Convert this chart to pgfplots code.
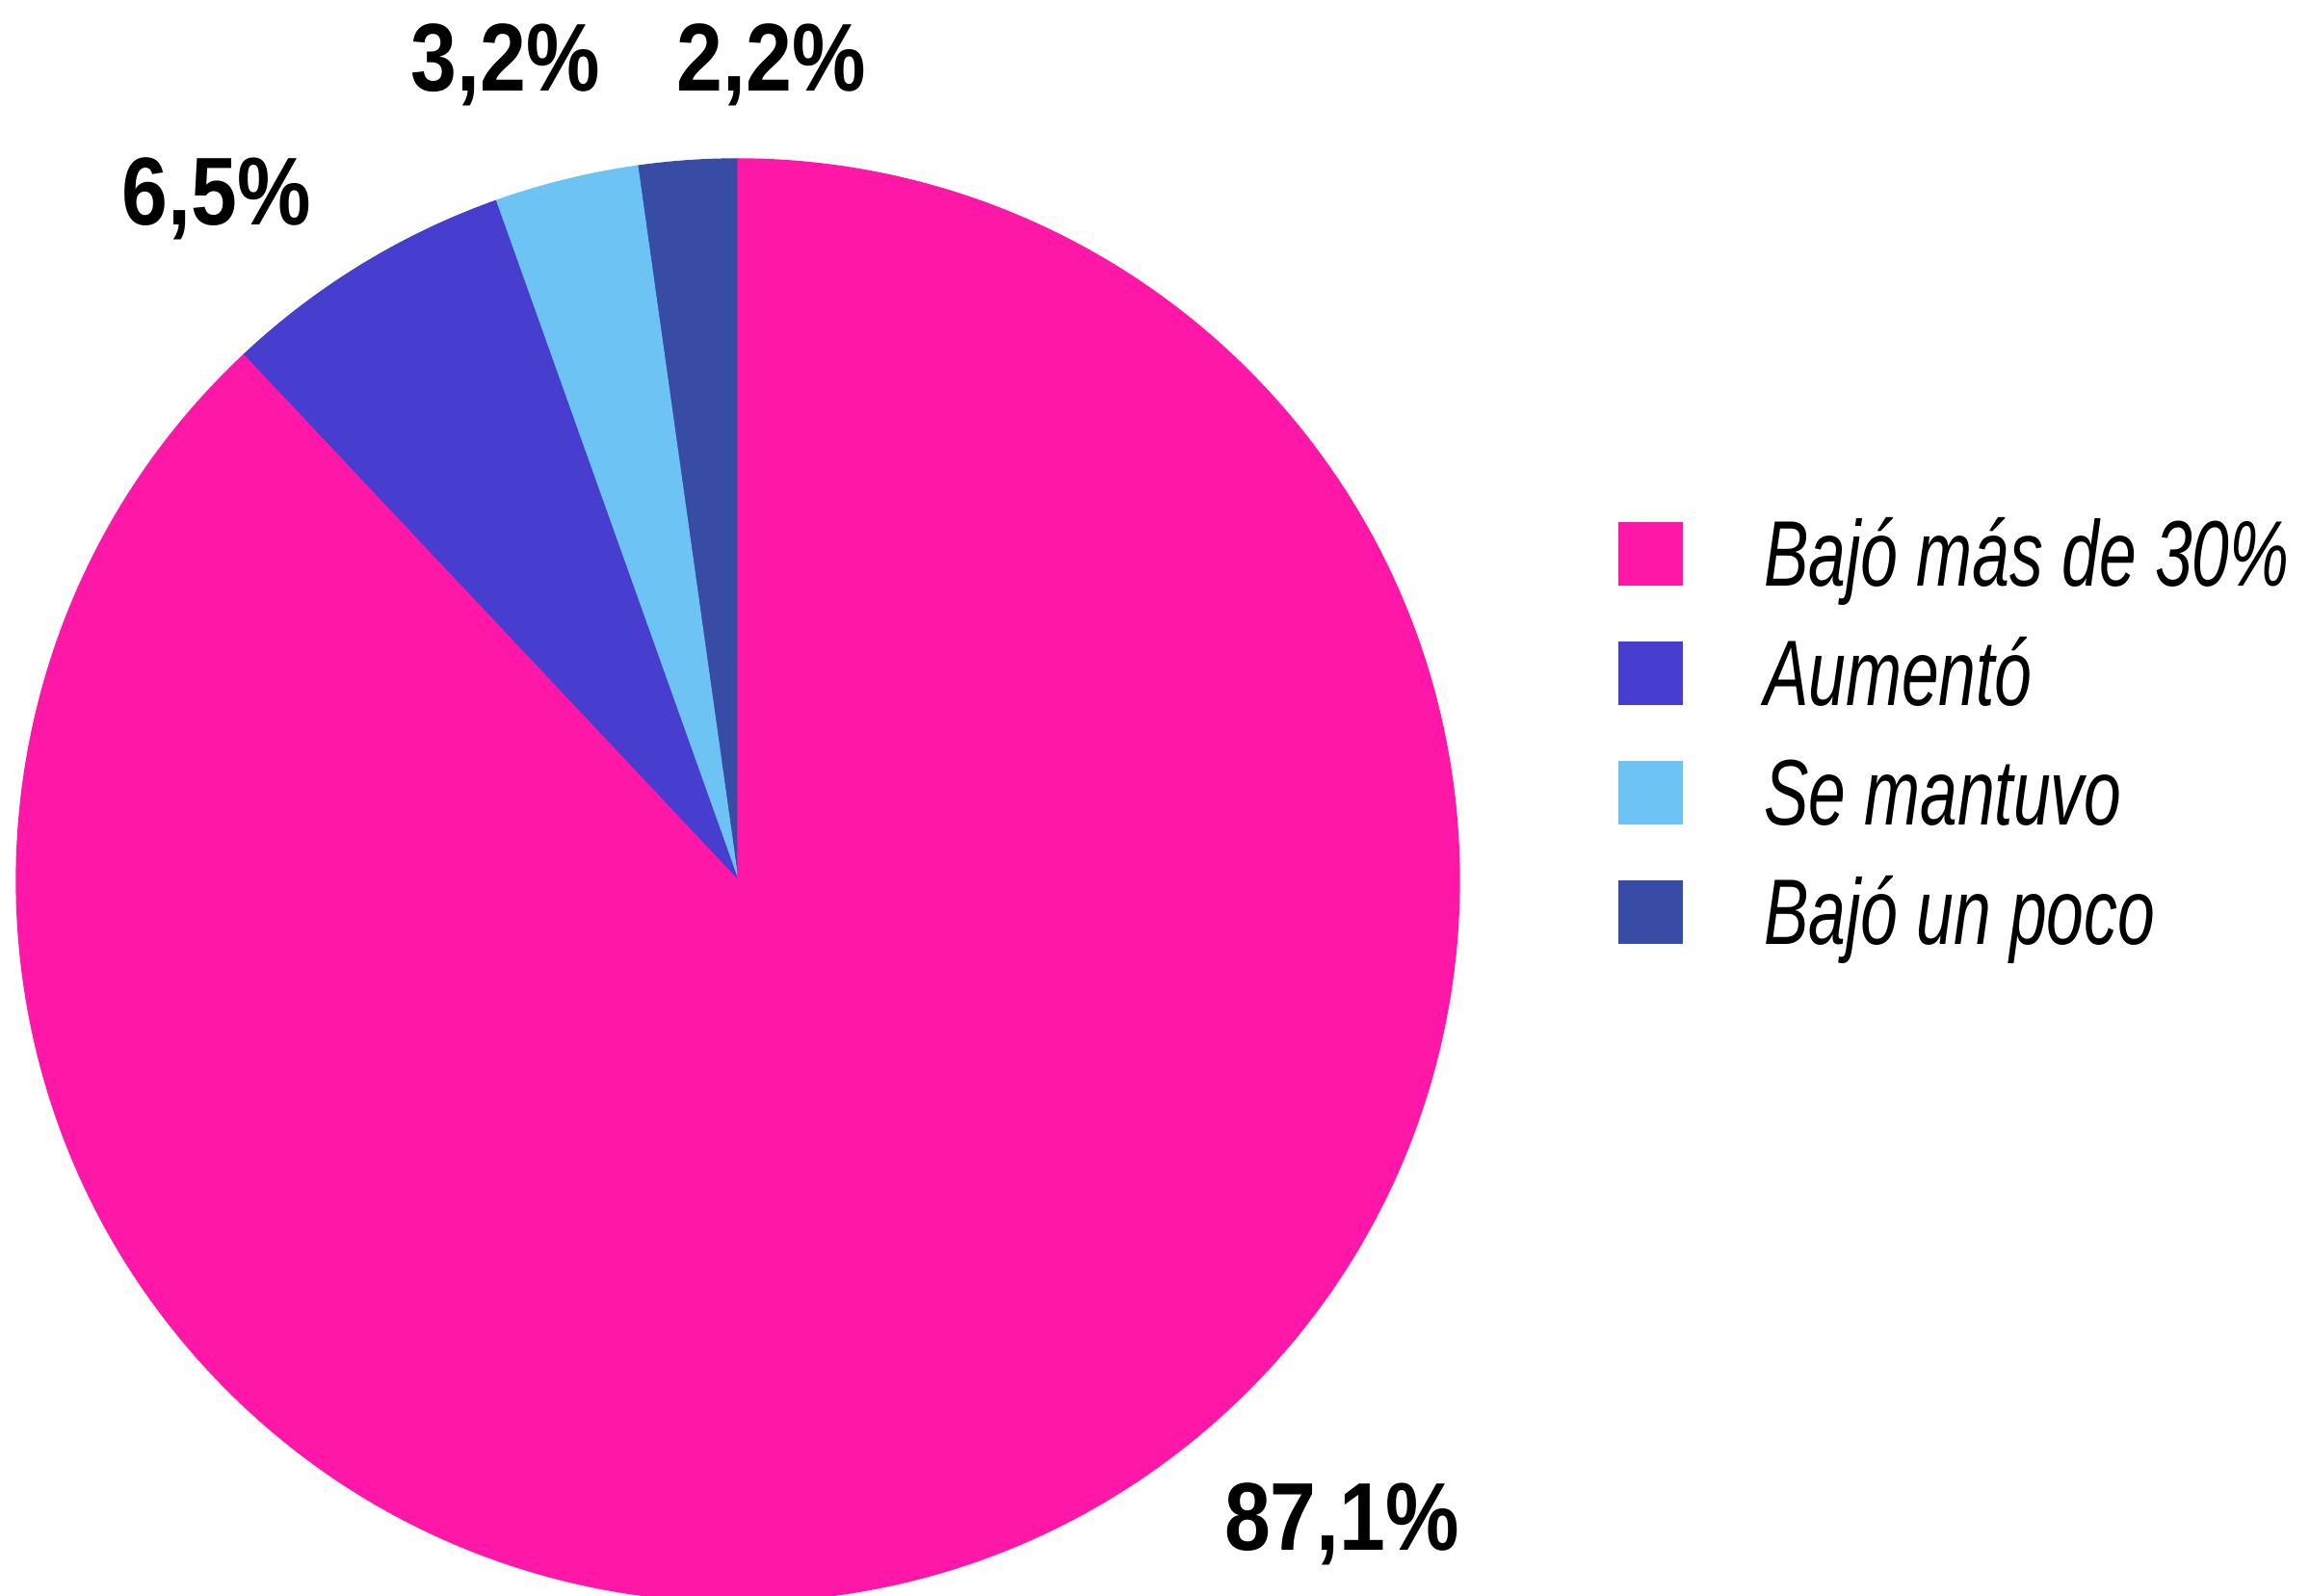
\documentclass[border=0pt]{standalone}
\usepackage{pgfplots}
\pgfplotsset{compat=1.18}
\usepackage{fontspec}
\setmainfont{Liberation Sans}
\newfontfamily\legfont{Liberation Sans}[FakeStretch=0.72]
\newfontfamily\labfont{Liberation Sans}[FakeStretch=0.86]

\definecolor{cPink}{HTML}{FF18A8}
\definecolor{cPurple}{HTML}{473DCF}
\definecolor{cLight}{HTML}{6EC3F5}
\definecolor{cDark}{HTML}{384CA6}

\begin{document}
\begin{tikzpicture}
\begin{axis}[
  x=0.15pt, y=0.15pt,
  xmin=0, xmax=2398, ymin=0, ymax=1657,
  hide axis, clip=true,
  legend cell align=left,
  legend image code/.code={\fill[#1, draw=none] (0pt,0pt) rectangle (10pt,10pt);},
  legend style={at={(axis cs:1679,1120)}, anchor=north west,
    draw=none, fill=none, inner sep=0pt, row sep=5.1pt,
    font=\legfont\itshape\fontsize{14.5}{17}\selectfont,
    nodes={inner sep=0pt, text height=10.5pt, text depth=3pt, anchor=base west},
    /tikz/every odd column/.append style={column sep=12.6pt}},
]
% invisible frame so the page keeps the reference size
\addplot[draw=none, forget plot] coordinates {(0,0) (2398,1657)};

% pie slices, counter-clockwise from 12 o'clock (shares in %)
\pgfplotsextra{%
  \xdef\curang{90}%
  \foreach \val/\col in {2.2/cDark, 3.2/cLight, 6.5/cPurple, 87.1/cPink}{%
    \pgfmathsetmacro\endang{\curang+\val/99.0*360}%
    \fill[\col, draw=\col, line width=0.2pt] (axis cs:766,743) -- ++(\curang:112.35pt)
      arc[start angle=\curang, end angle=\endang, radius=112.35pt] -- cycle;
    \xdef\curang{\endang}%
  }%
}

\addlegendimage{fill=cPink}
\addlegendentry{Bajó más de 30\%}
\addlegendimage{fill=cPurple}
\addlegendentry{Aumentó}
\addlegendimage{fill=cLight}
\addlegendentry{Se mantuvo}
\addlegendimage{fill=cDark}
\addlegendentry{Bajó un poco}

\tikzset{lab/.style={font=\labfont\bfseries\fontsize{15}{18}\selectfont, inner sep=0pt}}
\node[lab] at (axis cs:801,1590) {2,2\%};
\node[lab] at (axis cs:525,1590) {3,2\%};
\node[lab] at (axis cs:225,1451) {6,5\%};
\node[lab] at (axis cs:1393,75) {87,1\%};
\end{axis}
\end{tikzpicture}
\end{document}
